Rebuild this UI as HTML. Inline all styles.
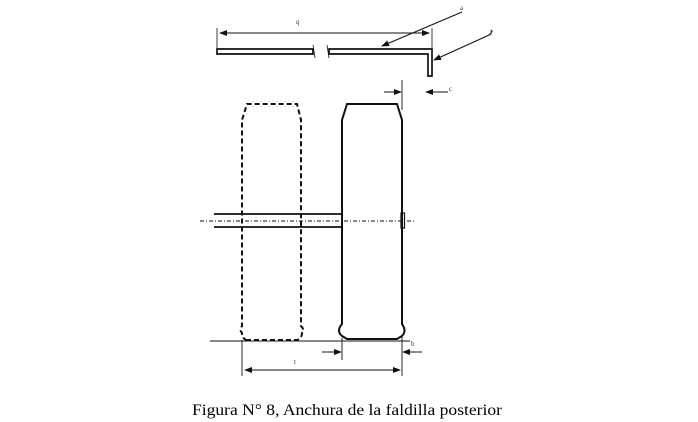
<!DOCTYPE html>
<html><head><meta charset="utf-8"><style>
html,body{margin:0;padding:0;background:#fff;width:698px;height:422px;overflow:hidden}
</style></head><body>
<svg width="698" height="422" viewBox="0 0 698 422" xmlns="http://www.w3.org/2000/svg" font-family="Liberation Serif, serif">
<defs>
<marker id="ar" markerWidth="8" markerHeight="6" refX="7" refY="3" orient="auto" markerUnits="userSpaceOnUse">
<path d="M0,0 L8,3 L0,6 z" fill="#111"/></marker>
</defs>
<g stroke="#111" fill="none">
<path d="M217,49 H313 V54 H217 Z" stroke-width="1.7"/>
<path d="M329,49 H432 V76 H428 V54 H329 Z" stroke-width="1.7"/>
<line x1="313" y1="45" x2="315" y2="58" stroke-width="0.8"/>
<line x1="327" y1="45" x2="329" y2="58" stroke-width="0.8"/>
<line x1="217" y1="28" x2="217" y2="48" stroke-width="0.8"/>
<line x1="432" y1="28" x2="432" y2="48" stroke-width="0.8"/>
<line x1="220" y1="33" x2="429" y2="33" stroke-width="1" marker-end="url(#ar)"/>
<line x1="429" y1="33" x2="220" y2="33" stroke-width="1" marker-end="url(#ar)"/>
<line x1="462" y1="12" x2="382" y2="46" stroke-width="1.1" marker-end="url(#ar)"/>
<path d="M492,30 Q492,34 487,36 L434,60" stroke-width="1.1" marker-end="url(#ar)"/>
<line x1="402" y1="80" x2="402" y2="110" stroke-width="0.9"/>
<line x1="384" y1="92" x2="401" y2="92" stroke-width="1" marker-end="url(#ar)"/>
<line x1="448" y1="92" x2="426" y2="92" stroke-width="1" marker-end="url(#ar)"/>
<path d="M246,340 H297 Q302,338 302,333 Q305,330 301,326 V120 L297,104 H247 L242,120 V326 Q239,330 242,333 Q242,338 246,340 Z" stroke-width="2" stroke-dasharray="5,3"/>
<path d="M347,339 H397 L402,336 Q407,331 402,324 V120 L397,104 H347 L342,120 V324 Q336,331 342,336 Z" stroke-width="2"/>
<line x1="214" y1="214" x2="342" y2="214" stroke-width="1.8"/>
<line x1="214" y1="227" x2="342" y2="227" stroke-width="1.8"/>
<line x1="200" y1="221" x2="415" y2="221" stroke-width="0.9" stroke-dasharray="4,2,1,2"/>
<rect x="401" y="213" width="3.5" height="15" stroke-width="1.2"/>
<line x1="210" y1="341" x2="410" y2="341" stroke-width="0.9"/>
<line x1="242" y1="340" x2="242" y2="376" stroke-width="0.9"/>
<line x1="402" y1="336" x2="402" y2="376" stroke-width="0.9"/>
<line x1="342" y1="338" x2="342" y2="360" stroke-width="0.9"/>
<line x1="322" y1="352" x2="341" y2="352" stroke-width="1" marker-end="url(#ar)"/>
<line x1="422" y1="352" x2="403" y2="352" stroke-width="1" marker-end="url(#ar)"/>
<line x1="245" y1="370" x2="400" y2="370" stroke-width="1" marker-end="url(#ar)"/>
<line x1="400" y1="370" x2="245" y2="370" stroke-width="1" marker-end="url(#ar)"/>
</g>
<g fill="#333" font-size="7">
<text x="296" y="24">q</text>
<text x="460" y="10">a</text>
<text x="490" y="34">j</text>
<text x="449" y="91">c</text>
<text x="294" y="364">t</text>
<text x="411" y="346">b</text>
</g>
<text x="347" y="415" text-anchor="middle" font-size="16" fill="#000" textLength="310" lengthAdjust="spacingAndGlyphs">Figura N° 8, Anchura de la faldilla posterior</text>
</svg>
</body></html>
